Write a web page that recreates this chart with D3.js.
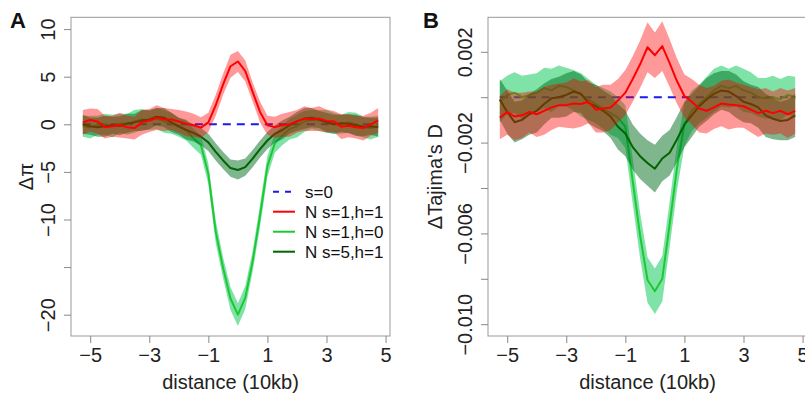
<!DOCTYPE html>
<html>
<head>
<meta charset="utf-8">
<script src="https://cdn.jsdelivr.net/npm/d3@7"></script>
<style>
  body { margin: 0; background: white; }
  svg text { font-family: "Liberation Sans", Arial, sans-serif; }
</style>
</head>
<body>
<div id="canvas"></div>
<script>
// distance from the sweep (10kb units)
const distance = [-5.25,-5,-4.75,-4.5,-4.25,-4,-3.75,-3.5,-3.25,-3,-2.75,-2.5,-2.25,-2,-1.75,-1.5,-1.25,-1,-0.75,-0.5,-0.25,0,
    0.25,0.5,0.75,1,1.25,1.5,1.75,2,2.25,2.5,2.75,3,3.25,3.5,3.75,4,4.25,4.5,4.75];

// panel A : delta pi
const a_s0 = [0,0,0,0,0,0,0,0,0,0,0,0,0,0,0,0,0,0,0,0,0,0,0,0,0,0,0,0,0,0,0,0,0,0,0,0,0,0,0,0,0];
const a_s1h1 = [0.2,0.45,0.3,-0.3,-0.2,-0.1,-0.3,-0.4,0.2,0.4,0.7,0.5,0.5,0.3,0.05,-0.1,-0.35,0.2,2.0,4.2,6.1,6.6,
    5.6,3.4,1.3,-0.1,-0.3,-0.1,0.0,0.3,0.6,0.5,0.6,0.35,0.3,-0.25,-0.15,-0.3,-0.4,0.0,0.4];
const a_s1h1_se = [1.3,1.2,1.3,1.2,1.1,1.3,1.2,1.2,1.3,1.2,1.3,1.2,1.1,1.2,1.3,1.2,1.1,1.0,1.1,1.1,1.2,1.1,
    1.1,1.0,1.1,1.0,1.1,1.2,1.3,1.2,1.3,1.2,1.3,1.2,1.1,1.3,1.2,1.2,1.3,1.2,1.3];
const a_s1h0 = [-0.2,-0.3,-0.1,0.0,-0.2,0.1,0.0,0.3,0.5,0.4,0.6,0.3,0.1,-0.3,-0.6,-1.5,-2.2,-5.2,-11.3,-15.1,-18.3,-20.0,
    -18.2,-14.4,-9.6,-4.4,-2.0,-1.2,-0.5,-0.2,0.3,0.5,0.4,0.3,0.1,0.0,0.2,0.0,-0.3,-0.4,-0.2];
const a_s1h0_se = [1.1,1.2,1.0,1.1,1.2,1.0,1.1,1.2,1.1,1.0,1.1,1.2,1.1,1.0,1.1,1.0,1.0,1.1,1.2,1.1,1.2,1.2,
    1.2,1.1,1.2,1.1,1.0,1.0,1.1,1.2,1.1,1.0,1.1,1.2,1.1,1.0,1.1,1.2,1.1,1.2,1.1];
const a_s5h1 = [0.0,-0.2,-0.3,-0.2,-0.1,-0.15,0.1,0.2,0.4,0.5,0.8,0.7,0.2,-0.2,-0.6,-0.9,-1.3,-1.9,-2.9,-3.8,-4.6,-4.8,
    -4.5,-3.6,-2.6,-1.7,-1.0,-0.6,-0.1,0.3,0.6,0.7,0.5,0.2,0.0,0.1,0.05,-0.1,-0.25,-0.2,-0.3];
const a_s5h1_se = [1.0,0.9,1.0,1.1,0.9,1.0,1.0,0.9,1.1,1.0,0.9,1.0,1.0,0.9,1.0,0.9,0.9,0.9,0.9,0.9,0.9,1.0,
    0.9,0.9,0.9,0.9,0.9,1.0,0.9,1.0,1.1,1.0,0.9,1.0,1.0,0.9,1.0,1.1,1.0,0.9,1.0];

// panel B : delta Tajima's D
const b_s0 = [0,0,0,0,0,0,0,0,0,0,0,0,0,0,0,0,0,0,0,0,0,0,0,0,0,0,0,0,0,0,0,0,0,0,0,0,0,0,0,0,0];
const b_s1h1 = [-0.0009,-0.00065,-0.00085,-0.0008,-0.00065,-0.00075,-0.0006,-0.00045,-0.00035,-0.00035,-0.00028,-0.0003,
    -0.0002,-0.00055,-0.0005,-0.00045,-0.00015,0.0002,0.0008,0.00145,0.0022,0.00185,0.00225,0.0015,0.0007,0.00005,
    -0.0002,-0.0005,-0.0006,-0.00045,-0.00028,-0.00032,-0.00035,-0.0004,-0.00055,-0.0007,-0.0006,-0.0007,-0.0006,-0.00075,-0.0006];
const b_s1h1_se = [0.00095,0.001,0.00105,0.001,0.0009,0.001,0.00105,0.001,0.00095,0.001,0.0011,0.001,0.00095,0.001,
    0.00105,0.001,0.00095,0.001,0.001,0.00105,0.0011,0.001,0.0011,0.00105,0.001,0.00095,0.001,0.00105,0.001,0.00095,
    0.001,0.0011,0.001,0.00095,0.001,0.00105,0.001,0.00095,0.001,0.00105,0.001];
const b_s1h0 = [-0.0002,0.0001,0.0002,0.0,0.0001,0.0002,0.0004,0.0003,0.0005,0.00045,0.0003,0.0001,-0.0001,-0.0003,
    -0.0005,-0.0007,-0.0009,-0.0013,-0.0037,-0.0061,-0.00805,-0.00855,-0.008,-0.0056,-0.0031,-0.0012,-0.0006,-0.0003,
    0.0,0.0003,0.0005,0.0004,0.0005,0.0003,0.0002,0.0,-0.00005,0.0,-0.0001,0.0001,0.0];
const b_s1h0_se = [0.0009,0.00085,0.0009,0.00095,0.0009,0.00085,0.0009,0.00095,0.0009,0.00085,0.0009,0.00095,0.0009,
    0.00085,0.0009,0.00095,0.0009,0.00095,0.001,0.001,0.001,0.001,0.001,0.001,0.001,0.00095,0.0009,0.00085,0.0009,
    0.00095,0.0009,0.00085,0.0009,0.00095,0.0009,0.00085,0.0009,0.00095,0.0009,0.00085,0.0009];
const b_s5h1 = [-0.0001,-0.00065,-0.0011,-0.001,-0.00075,-0.0006,-0.0003,-0.00005,0.0,0.0001,0.00025,0.00015,-0.00025,
    -0.0004,-0.0006,-0.00085,-0.0013,-0.0016,-0.0022,-0.0026,-0.0029,-0.00315,-0.0027,-0.00245,-0.00185,-0.0012,-0.0008,
    -0.0004,-0.0001,0.00015,0.0003,0.00025,0.00005,-0.0002,-0.0003,-0.00045,-0.0008,-0.00095,-0.00105,-0.001,-0.0008];
const b_s5h1_se = [0.0009,0.00095,0.0009,0.00085,0.0009,0.00095,0.0009,0.00085,0.0009,0.00095,0.0009,0.00085,0.0009,
    0.00095,0.0009,0.00095,0.001,0.001,0.001,0.001,0.001,0.00105,0.001,0.001,0.001,0.001,0.00095,0.0009,0.00095,0.0009,
    0.00085,0.0009,0.00095,0.0009,0.00085,0.0009,0.00095,0.0009,0.00085,0.0009,0.00095];

// axes
const xTicks = [-5, -3, -1, 1, 3, 5];
const a_ylim = [-21, 10];
const a_yTicks = [10, 5, 0, -5, -10, -15, -20];
const a_yLabels = [10, 5, 0, -5, -10, -20];
const b_ylim = [-0.010, 0.003];
const b_yTicks = [0.002, 0, -0.002, -0.004, -0.006, -0.008, -0.010];
const b_yLabels = [0.002, -0.002, -0.006, -0.010];
const legendLabels = ["s=0", "N s=1,h=1", "N s=1,h=0", "N s=5,h=1"];

const width = 805;
const height = 396;
const plotW = 319;
const plotTop = 17.3;
const plotBottom = 336;

const red = "#ff0000", redBand = "rgba(255,0,0,0.4)";
const lgreen = "#1ec832", lgreenBand = "rgba(0,200,80,0.5)";
const dgreen = "#006400", dgreenBand = "rgba(0,110,30,0.5)";
const blue = "#1a1aee";

// R style 4% padding
function expand(ext) {
    const d = (ext[1] - ext[0]) * 0.04;
    return [ext[0] - d, ext[1] + d];
}

const svg = d3.select("#canvas")
    .append("svg")
    .attr("width", width)
    .attr("height", height)
    .attr("viewBox", [0, 0, width, height]);

function drawPanel(p) {
    const x_axis = d3.scaleLinear()
        .domain(expand(d3.extent(distance)))
        .range([p.left, p.left + plotW]);
    const y_axis = d3.scaleLinear()
        .domain(expand(p.ylim))
        .range([plotBottom, plotTop]);

    svg.append("clipPath").attr("id", "clip" + p.letter)
        .append("rect")
        .attr("x", p.left).attr("y", plotTop)
        .attr("width", plotW).attr("height", plotBottom - plotTop);

    const plot = svg.append("g").attr("clip-path", `url(#clip${p.letter})`);

    // s=0 baseline
    plot.append("path")
        .attr("d", d3.line().x((d, i) => x_axis(distance[i])).y(d => y_axis(d))(p.s0))
        .attr("fill", "none")
        .attr("stroke", blue)
        .attr("stroke-width", 2)
        .attr("stroke-dasharray", "8,6");

    p.series.forEach(s => {
        const band = d3.area()
            .x((d, i) => x_axis(distance[i]))
            .y0((d, i) => y_axis(d - s.se[i]))
            .y1((d, i) => y_axis(d + s.se[i]));
        plot.append("path")
            .attr("d", band(s.mean))
            .attr("fill", s.band);
        plot.append("path")
            .attr("d", d3.line().x((d, i) => x_axis(distance[i])).y(d => y_axis(d))(s.mean))
            .attr("fill", "none")
            .attr("stroke", s.color)
            .attr("stroke-width", 2)
            .attr("stroke-linejoin", "round");
    });

    // box
    svg.append("rect")
        .attr("x", p.left).attr("y", plotTop)
        .attr("width", plotW).attr("height", plotBottom - plotTop)
        .attr("fill", "none")
        .attr("stroke", "#999");

    // x axis
    svg.append("g")
        .attr("transform", `translate(0,${plotBottom})`)
        .call(d3.axisBottom(x_axis).tickValues(xTicks).tickSize(7).tickPadding(5))
        .call(g => g.select(".domain").remove())
        .call(g => g.selectAll(".tick line").attr("stroke", "#888"))
        .call(g => g.selectAll("text")
            .attr("font-size", "20px")
            .attr("font-family", "Liberation Sans, Arial, sans-serif")
            .attr("fill", "#222"));

    // y axis, labels rotated like R
    svg.append("g")
        .attr("transform", `translate(${p.left},0)`)
        .call(d3.axisLeft(y_axis).tickValues(p.yTicks).tickSize(7)
            .tickFormat(d => p.yLabels.includes(d) ? p.fmt(d) : ""))
        .call(g => g.select(".domain").remove())
        .call(g => g.selectAll(".tick line").attr("stroke", "#888"))
        .call(g => g.selectAll("text")
            .attr("x", null)
            .attr("dy", null)
            .attr("text-anchor", "middle")
            .attr("transform", "translate(-16,0) rotate(-90)")
            .attr("font-size", "20px")
            .attr("font-family", "Liberation Sans, Arial, sans-serif")
            .attr("fill", "#222"));

    svg.append("text")
        .attr("x", p.left + plotW / 2)
        .attr("y", 389)
        .attr("text-anchor", "middle")
        .attr("font-size", "20px")
        .attr("fill", "#222")
        .text("distance (10kb)");

    svg.append("text")
        .attr("transform", `translate(${p.titleX},${(plotTop + plotBottom) / 2}) rotate(-90)`)
        .attr("text-anchor", "middle")
        .attr("font-size", "20px")
        .attr("fill", "#222")
        .text(p.title);

    svg.append("text")
        .attr("x", p.letterX)
        .attr("y", 28)
        .attr("font-size", "22px")
        .attr("font-weight", "bold")
        .attr("fill", "#111")
        .text(p.letter);
}

drawPanel({
    letter: "A", letterX: 10, left: 71, titleX: 33, title: "Δπ",
    ylim: a_ylim, yTicks: a_yTicks, yLabels: a_yLabels, fmt: d3.format("d"),
    s0: a_s0,
    series: [
        {mean: a_s1h0, se: a_s1h0_se, color: lgreen, band: lgreenBand},
        {mean: a_s5h1, se: a_s5h1_se, color: dgreen, band: dgreenBand},
        {mean: a_s1h1, se: a_s1h1_se, color: red, band: redBand}
    ]
});

drawPanel({
    letter: "B", letterX: 423, left: 488, titleX: 442, title: "ΔTajima's D",
    ylim: b_ylim, yTicks: b_yTicks, yLabels: b_yLabels, fmt: d3.format(".3f"),
    s0: b_s0,
    series: [
        {mean: b_s1h0, se: b_s1h0_se, color: lgreen, band: lgreenBand},
        {mean: b_s5h1, se: b_s5h1_se, color: dgreen, band: dgreenBand},
        {mean: b_s1h1, se: b_s1h1_se, color: red, band: redBand}
    ]
});

// legend in panel A
const legendColors = [blue, red, lgreen, dgreen];
const legend = svg.append("g");
legend.selectAll("line")
    .data(legendLabels)
    .join("line")
        .attr("x1", 273).attr("x2", 295)
        .attr("y1", (d, i) => 191.7 + i * 20)
        .attr("y2", (d, i) => 191.7 + i * 20)
        .attr("stroke", (d, i) => legendColors[i])
        .attr("stroke-width", 2)
        .attr("stroke-dasharray", (d, i) => i == 0 ? "6,6" : null);
legend.selectAll("text")
    .data(legendLabels)
    .join("text")
        .attr("x", 305)
        .attr("y", (d, i) => 191.7 + i * 20 + 6)
        .attr("font-size", "17px")
        .attr("fill", "#111")
        .text(d => d);
</script>
</body>
</html>
